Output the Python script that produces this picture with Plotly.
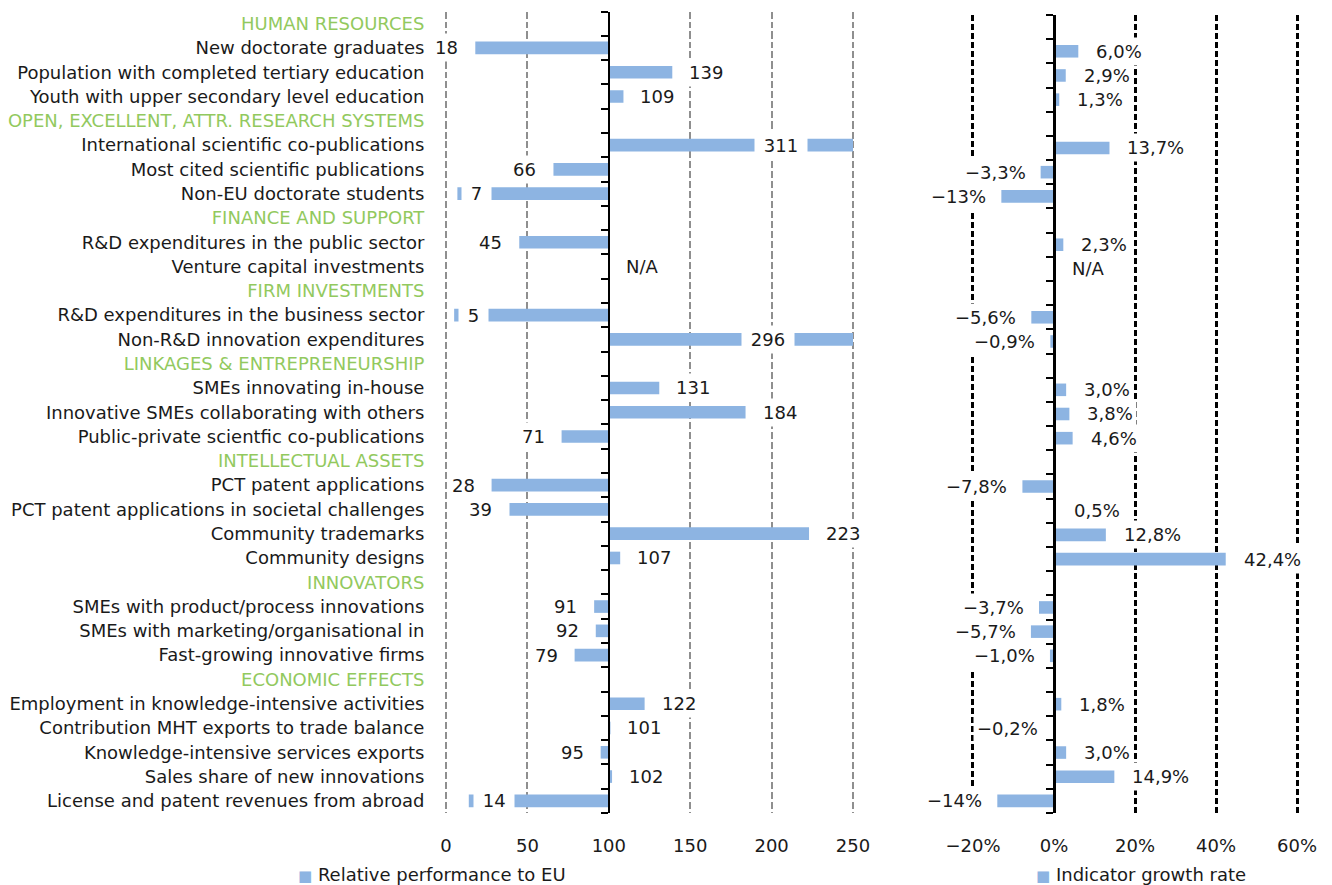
import plotly.graph_objects as go

W, H = 1332, 885

categories = [
    "HUMAN RESOURCES",
    "New doctorate graduates",
    "Population with completed tertiary education",
    "Youth with upper secondary level education",
    "OPEN, EXCELLENT, ATTR. RESEARCH SYSTEMS",
    "International scientific co-publications",
    "Most cited scientific publications",
    "Non-EU doctorate students",
    "FINANCE AND SUPPORT",
    "R&amp;D expenditures in the public sector",
    "Venture capital investments",
    "FIRM INVESTMENTS",
    "R&amp;D expenditures in the business sector",
    "Non-R&amp;D innovation expenditures",
    "LINKAGES &amp; ENTREPRENEURSHIP",
    "SMEs innovating in-house",
    "Innovative SMEs collaborating with others",
    "Public-private scientfic co-publications",
    "INTELLECTUAL ASSETS",
    "PCT patent applications",
    "PCT patent applications in societal challenges",
    "Community trademarks",
    "Community designs",
    "INNOVATORS",
    "SMEs with product/process innovations",
    "SMEs with marketing/organisational in",
    "Fast-growing innovative firms",
    "ECONOMIC EFFECTS",
    "Employment in knowledge-intensive activities",
    "Contribution MHT exports to trade balance",
    "Knowledge-intensive services exports",
    "Sales share of new innovations",
    "License and patent revenues from abroad",
]
is_header = [c.isupper() or c.startswith("LINKAGES") for c in categories]

# Relative performance to EU (EU = 100); None = header row, "N/A" = not available
performance = [None, 18, 139, 109, None, 311, 66, 7, None, 45, "N/A", None, 5, 296,
               None, 131, 184, 71, None, 28, 39, 223, 107, None, 91, 92, 79,
               None, 122, 101, 95, 102, 14]

# Indicator growth rate (%)
growth = [None, 6.0, 2.9, 1.3, None, 13.7, -3.3, -13, None, 2.3, "N/A", None, -5.6, -0.9,
          None, 3.0, 3.8, 4.6, None, -7.8, 0.5, 12.8, 42.4, None, -3.7, -5.7, -1.0,
          None, 1.8, -0.2, 3.0, 14.9, -14]
growth_labels = [None, "6,0%", "2,9%", "1,3%", None, "13,7%", "−3,3%", "−13%", None, "2,3%", "N/A",
                 None, "−5,6%", "−0,9%", None, "3,0%", "3,8%", "4,6%", None, "−7,8%", "0,5%",
                 "12,8%", "42,4%", None, "−3,7%", "−5,7%", "−1,0%", None, "1,8%", "−0,2%",
                 "3,0%", "14,9%", "−14%"]

left_ticks = [0, 50, 100, 150, 200, 250]
left_ticktext = ["0", "50", "100", "150", "200", "250"]
right_ticks = [-20, 0, 20, 40, 60]
right_ticktext = ["−20%", "0%", "20%", "40%", "60%"]

BAR = "#8DB4E2"
GREEN = "#92C95E"
TXT = "#1a1a1a"
FONT = "DejaVu Sans"
FS = 18
AXIS_MAX = 250
BASE = 100

n = len(categories)
rows = list(range(n))


def px_x(p):
    return p / W


def px_y(p):
    return 1 - p / H


l_rows, l_len = [], []
for i, v in enumerate(performance):
    if isinstance(v, (int, float)):
        l_rows.append(i)
        l_len.append(min(v, AXIS_MAX) - BASE)

r_rows, r_val = [], []
for i, v in enumerate(growth):
    if isinstance(v, (int, float)):
        r_rows.append(i)
        r_val.append(v)

fig = go.Figure()
fig.add_trace(go.Bar(y=l_rows, x=l_len, base=BASE, orientation="h", width=0.52,
                     marker=dict(color=BAR, line=dict(width=0)),
                     name="Relative performance to EU", showlegend=False,
                     xaxis="x", yaxis="y"))
fig.add_trace(go.Bar(y=r_rows, x=r_val, orientation="h", width=0.52,
                     marker=dict(color=BAR, line=dict(width=0)),
                     name="Indicator growth rate", showlegend=False,
                     xaxis="x2", yaxis="y2"))
fig.add_trace(go.Scatter(x=[None], y=[None], xaxis="x", yaxis="y3",
                         showlegend=False, hoverinfo="skip"))

# ---------- geometry ----------
l_pad = 1.0
l_ppu = (853 - 446) / 250
l_dom = [px_x(446 - l_pad * l_ppu), px_x(853 + l_pad * l_ppu)]
r_pad = 0.5
r_ppu = (1297 - 973) / 80
r_dom = [px_x(973 - r_pad * r_ppu), px_x(1297 + r_pad * r_ppu)]
yl_dom = [px_y(813), px_y(11.5)]
yr_dom = [px_y(813), px_y(15)]

bounds = [i - 0.5 for i in range(n + 1)]
yrange = [n - 0.5, -0.5]

ticktext = [f"<span style='color:{GREEN}'>{c}</span>" if h else c
            for c, h in zip(categories, is_header)]

tickfont = dict(family=FONT, size=FS, color=TXT)

fig.update_layout(
    width=W, height=H,
    margin=dict(l=0, r=0, t=0, b=0, pad=0, autoexpand=False),
    paper_bgcolor="white", plot_bgcolor="white",
    font=dict(family=FONT, size=FS, color=TXT),
    barmode="overlay",
    xaxis=dict(domain=l_dom, range=[-l_pad, AXIS_MAX + l_pad], anchor="y", automargin=False,
               tickvals=left_ticks, ticktext=left_ticktext, tickfont=tickfont,
               showgrid=True, gridcolor="#8f8f8f", gridwidth=2, griddash="7px,3px",
               zeroline=False, showline=False, ticks="", ticklabelstandoff=20),
    yaxis=dict(domain=yl_dom, range=yrange, anchor="x", automargin=False,
               tickvals=rows, ticktext=ticktext, tickfont=tickfont,
               showgrid=False, zeroline=False, showline=False, ticks="",
               ticklabelstandoff=19),
    yaxis3=dict(overlaying="y", anchor="free", position=px_x(446 + BASE * l_ppu),
                range=yrange, tickvals=bounds, showticklabels=False, automargin=False,
                ticks="outside", ticklen=7, tickwidth=2, tickcolor="black",
                showline=True, linecolor="black", linewidth=2.5,
                showgrid=False, zeroline=False, side="left"),
    xaxis2=dict(domain=r_dom, range=[-20 - r_pad, 60 + r_pad], anchor="y2", automargin=False,
                tickvals=right_ticks, ticktext=right_ticktext, tickfont=tickfont,
                showgrid=True, gridcolor="black", gridwidth=3, griddash="6px,3px",
                zeroline=False, showline=False, ticks="", ticklabelstandoff=20),
    yaxis2=dict(domain=yr_dom, range=yrange, anchor="free", position=px_x(973 + 20 * r_ppu),
                tickvals=bounds, showticklabels=False, automargin=False,
                ticks="outside", ticklen=7, tickwidth=2, tickcolor="black",
                showline=True, linecolor="black", linewidth=2.5,
                showgrid=False, zeroline=False, side="left"),
)

# ---------- data labels ----------
NB = "&nbsp;"
ann = []
lab_font = dict(family=FONT, size=FS, color=TXT)
for i, v in enumerate(performance):
    if v is None:
        continue
    common = dict(xref="x", yref="y", y=i, showarrow=False, font=lab_font,
                  bgcolor="white", borderpad=3, yanchor="middle")
    if v == "N/A":
        ann.append(dict(x=BASE, text="N/A", xanchor="left", xshift=13, **common))
    elif v > AXIS_MAX:
        ann.append(dict(x=(BASE + v) / 2, text=f"{NB}{v}{NB}", xanchor="center", **common))
    elif v < 15:
        ann.append(dict(x=v, text=f"{NB}{v}{NB}", xanchor="left", xshift=4, **common))
    elif v < BASE:
        ann.append(dict(x=v, text=str(v), xanchor="right", xshift=-13, **common))
    else:
        ann.append(dict(x=v, text=str(v), xanchor="left", xshift=13, **common))

for i, v in enumerate(growth):
    if v is None:
        continue
    common = dict(xref="x2", yref="y2", y=i, showarrow=False, font=lab_font,
                  bgcolor="white", borderpad=3, yanchor="middle")
    if v == "N/A":
        ann.append(dict(x=0, text="N/A", xanchor="left", xshift=14, **common))
    elif v < 0:
        ann.append(dict(x=v, text=growth_labels[i], xanchor="right", xshift=-11, **common))
    else:
        ann.append(dict(x=v, text=growth_labels[i], xanchor="left", xshift=14, **common))

# ---------- legend (as text) ----------
legend_font = dict(family=FONT, size=FS, color=TXT)
ann.append(dict(xref="paper", yref="paper", x=px_x(296), y=px_y(874), xanchor="left",
                yanchor="middle", showarrow=False, font=legend_font,
                text=f"<span style='color:{BAR};font-size:15px'>■</span> Relative performance to EU"))
ann.append(dict(xref="paper", yref="paper", x=px_x(1034), y=px_y(874), xanchor="left",
                yanchor="middle", showarrow=False, font=legend_font,
                text=f"<span style='color:{BAR};font-size:15px'>■</span> Indicator growth rate"))

fig.update_layout(annotations=ann)
fig.write_html("out.html",
               config={"displayModeBar": False, "staticPlot": True},
               post_script="document.body.style.margin='0';document.body.style.overflow='hidden';")
